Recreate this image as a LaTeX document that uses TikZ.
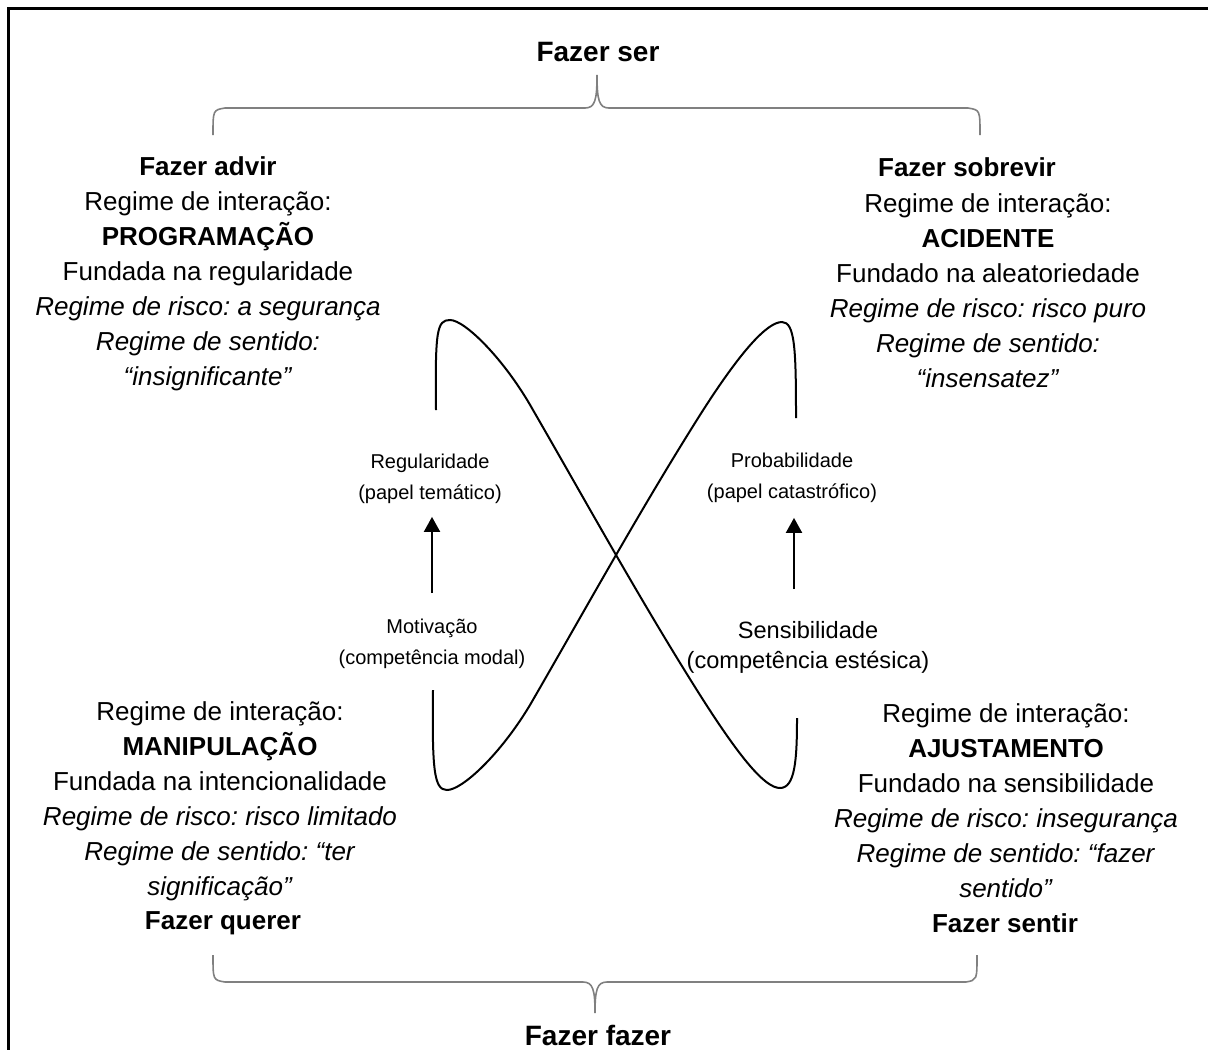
\documentclass[tikz,border=0pt]{standalone}
\usepackage{fontspec}
\setmainfont{Liberation Sans}
\usetikzlibrary{arrows.meta}
\frenchspacing

\begin{document}
\begin{tikzpicture}[x=0.5pt,y=-0.5pt,
    txt/.style={align=center, font=\fontsize{13}{17.5}\selectfont},
    ttl/.style={font=\fontsize{13}{17.5}\selectfont\bfseries},
    big/.style={font=\fontsize{14}{17}\selectfont\bfseries},
    lbl/.style={align=center, font=\fontsize{10}{15.5}\selectfont},
    brace/.style={draw=black!50, line width=0.8pt},
    eight/.style={line width=1pt},
    arr/.style={-{Triangle[width=8pt,length=7.5pt]}, line width=1pt}]
        \useasboundingbox (0,0) rectangle (1208,1050);
        \draw[line width=1.5pt] (1208,8) -- (8,8) -- (8,1050);

        \node[big] (ser) at (598,52) {Fazer ser};
        \node[big] (fazer) at (598,1035) {Fazer fazer};

        \node[ttl] (advir) at (208,166) {Fazer advir};
        \node[txt] (prog) at (208,291) {Regime de interação:\\ \textbf{PROGRAMAÇÃO}\\ Fundada na regularidade\\
            \textit{Regime de risco: a segurança}\\ \textit{Regime de sentido:}\\ \textit{“insignificante”}};
        \node[ttl] (sobrevir) at (967,167) {Fazer sobrevir};
        \node[txt] (acid) at (988,291) {Regime de interação:\\ \textbf{ACIDENTE}\\ Fundado na aleatoriedade\\
            \textit{Regime de risco: risco puro}\\ \textit{Regime de sentido:}\\ \textit{“insensatez”}};

        \node[txt] (manip) at (220,801) {Regime de interação:\\ \textbf{MANIPULAÇÃO}\\ Fundada na intencionalidade\\
            \textit{Regime de risco: risco limitado}\\ \textit{Regime de sentido: “ter}\\ \textit{significação”}};
        \node[ttl] (querer) at (223,923) {Fazer querer};
        \node[txt] (ajust) at (1006,801) {Regime de interação:\\ \textbf{AJUSTAMENTO}\\ Fundado na sensibilidade\\
            \textit{Regime de risco: insegurança}\\ \textit{Regime de sentido: “fazer}\\ \textit{sentido”}};
        \node[ttl] (sentir) at (1005,923) {Fazer sentir};

        \node[lbl] (reg) at (430,479) {Regularidade\\ (papel temático)};
        \node[lbl] (prob) at (792,478) {Probabilidade\\ (papel catastrófico)};
        \node[lbl] (motiv) at (432,644) {Motivação\\ (competência modal)};
        \node[lbl, font=\fontsize{11.8}{15}\selectfont] (sens) at (808,647) {Sensibilidade\\ (competência estésica)};

        \coordinate (m1) at (432,593);
        \coordinate (s1) at (794,589);
        \draw[arr, shorten >=3pt] (m1) -- (m1 |- reg.south);
        \draw[arr, shorten >=4pt] (s1) -- (s1 |- prob.south);

        \draw[brace] (213,135) .. controls (213,110) .. (225,108) -- (585,108)
            .. controls (595,108) and (597,100) .. (597,75)
            .. controls (597,100) and (599,108) .. (609,108) -- (968,108)
            .. controls (980,110) .. (980,135);
        \draw[brace] (213,955) .. controls (213,980) .. (225,982) -- (583,982)
            .. controls (593,982) and (595,990) .. (595,1013)
            .. controls (595,990) and (597,982) .. (607,982) -- (966,982)
            .. controls (977,980) .. (977,955);

        \draw[eight] (436,410) .. controls (435,330) and (437,320) .. (450,320)
            .. controls (465,320) and (505,360) .. (533,410)
            .. controls (585,500) and (640,600) .. (700,695)
            .. controls (740,758) and (765,788) .. (780,788)
            .. controls (795,788) and (797,760) .. (797,718);
        \draw[eight] (433,690) .. controls (432,770) and (434,790) .. (447,790)
            .. controls (462,790) and (500,755) .. (530,705)
            .. controls (585,610) and (640,510) .. (700,415)
            .. controls (740,352) and (767,322) .. (782,322)
            .. controls (795,322) and (796,350) .. (796,418);
    \end{tikzpicture}
\end{document}
